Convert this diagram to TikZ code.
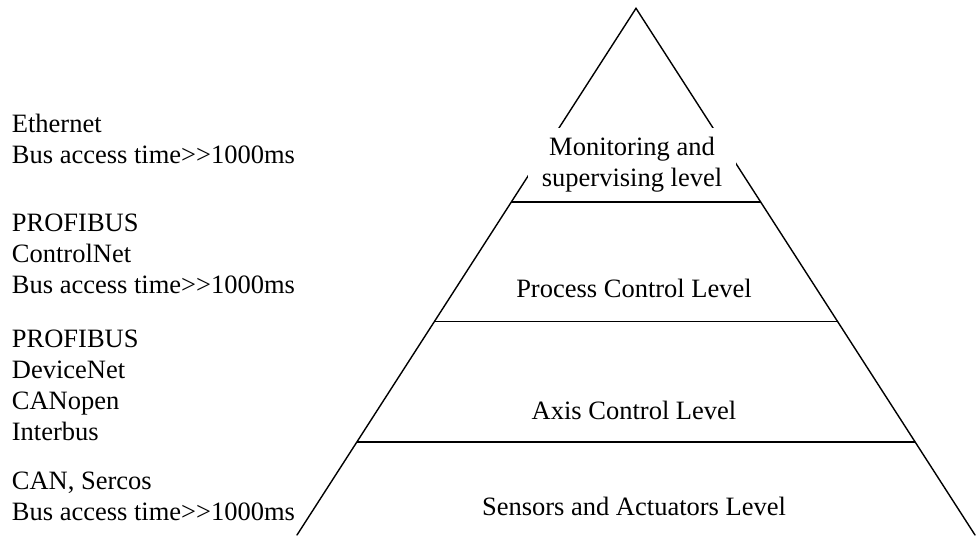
\documentclass[tikz,border=0pt]{standalone}
\usepackage{fontspec}
\setmainfont{Liberation Serif}
\begin{document}
\begin{tikzpicture}[x=1pt,y=-1pt,
  edge/.style={line width=1.4pt, line cap=round, line join=miter},
  levelsep/.style={line width=1.6pt},
  lbl/.style={inner sep=0pt, font=\fontsize{26.5}{31}\selectfont},
  netlbl/.style={lbl, anchor=base west, align=left},
  levellbl/.style={lbl, anchor=base}
]
\useasboundingbox (0,0) rectangle (976,535);

% pyramid outline
\coordinate (apex) at (636,8.3);
\coordinate (bl) at (297,535);
\coordinate (br) at (975,535);
\draw[edge] (bl) -- (apex) -- (br);

% top level label masks the outline behind it
\node[lbl, align=center, anchor=north, fill=white, inner xsep=14pt, inner ysep=9pt]
  (mon) at (632,128) {Monitoring and\\supervising level};

% level separators
\coordinate (l1a) at (511,201.7);
\coordinate (l1b) at (761,201.7);
\coordinate (l2a) at (434,321.5);
\coordinate (l2b) at (838,321.5);
\coordinate (l3a) at (357,441.7);
\coordinate (l3b) at (915,441.7);
\draw[levelsep] (l1a) -- (l1b);
\draw[levelsep] (l2a) -- (l2b);
\draw[levelsep] (l3a) -- (l3b);

% level names
\node[levellbl] (pcl) at (634,297) {Process Control Level};
\node[levellbl] (acl) at (634,419) {Axis Control Level};
\node[levellbl] (sal) at (634,515) {Sensors and Actuators Level};

% field bus families (anchored at the baseline of the last line)
\node[netlbl] (n1) at (11.7,163) {Ethernet\\Bus access time>{}>1000ms};
\node[netlbl] (n2) at (11.7,293) {PROFIBUS\\ControlNet\\Bus access time>{}>1000ms};
\node[netlbl] (n3) at (11.7,440) {PROFIBUS\\DeviceNet\\CANopen\\Interbus};
\node[netlbl] (n4) at (11.7,520) {CAN, Sercos\\Bus access time>{}>1000ms};
\end{tikzpicture}
\end{document}
